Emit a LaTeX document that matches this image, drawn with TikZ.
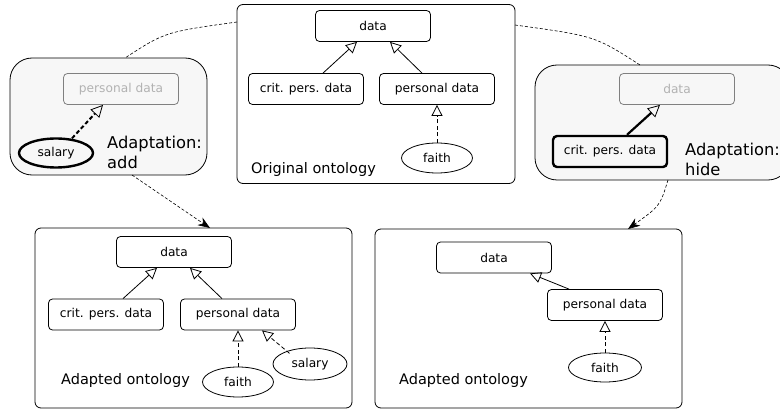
\documentclass[tikz,border=0pt]{standalone}
\usepackage{fontspec}
\setmainfont{DejaVu Sans}
\usetikzlibrary{arrows.meta,shapes.geometric}
\tikzset{
  cls/.style={draw, rounded corners=4pt, minimum width=115pt, minimum height=31pt, inner sep=0pt, font=\fontsize{12.2}{14}\selectfont, line width=0.8pt},
  ghost/.style={cls, draw=black!50, text=black!30},
  bold/.style={line width=2.4pt},
  inst/.style={draw, ellipse, minimum width=71pt, minimum height=30pt, inner sep=0pt, font=\fontsize{12.2}{14}\selectfont, line width=0.8pt},
  frame/.style={draw, rounded corners=6pt, line width=0.8pt},
  adframe/.style={draw, rounded corners=22pt, line width=0.8pt, fill=black!3},
  isa/.style={-{Triangle[open, length=11pt, width=11pt]}, line width=0.8pt},
  io/.style={isa, dash pattern=on 4pt off 2.5pt},
  flow/.style={dash pattern=on 3pt off 2pt, line width=0.6pt},
  lbl/.style={font=\fontsize{14.5}{17}\selectfont, anchor=west, inner sep=0pt},
  adlbl/.style={font=\fontsize{16.3}{20}\selectfont, anchor=west, align=left, inner sep=0pt}
}
\begin{document}
\begin{tikzpicture}[x=1pt,y=-1pt]
\useasboundingbox (0,0) rectangle (780,409);
\clip (0,0) rectangle (780,409);

% frames
\node[frame, minimum width=278pt, minimum height=179pt, inner sep=0pt] (F0) at (376,94) {};
\node[adframe, minimum width=197pt, minimum height=117pt, inner sep=0pt] (F1) at (108.5,116.5) {};
\node[adframe, minimum width=255pt, minimum height=115pt, inner sep=0pt] (F2) at (662.5,122.5) {};
\node[frame, minimum width=317pt, minimum height=180pt, inner sep=0pt] (F3) at (193.5,318) {};
\node[frame, minimum width=307pt, minimum height=179pt, inner sep=0pt] (F4) at (528.5,318.5) {};

% original ontology
\node[cls] (o-data) at (373,26) {data};
\node[cls] (o-crit) at (306,89) {crit. pers. data};
\node[cls] (o-pers) at (437,89) {personal data};
\node[inst] (o-faith) at (437,158) {faith};
\node[lbl] (o-lbl) at (251,170) {Original ontology};
\draw[isa] ([xshift=17pt]o-crit.north) -- ([xshift=-16pt]o-data.south);
\draw[isa] ([xshift=-15pt]o-pers.north) -- ([xshift=17pt]o-data.south);
\draw[io] (o-faith) -- (o-pers);

% adaptation add
\node[ghost] (a-pers) at (121,89) {personal data};
\node[inst, bold, minimum width=74pt, minimum height=29pt] (a-sal) at (56,153) {salary};
\node[adlbl] (a-lbl) at (107,152) {Adaptation:\\add};
\draw[io, line width=2pt, -{Triangle[open, length=12pt, width=12pt, line width=0.8pt]}] (a-sal.north) ++(16pt,-1pt) coordinate (a-s) (a-s) -- ([xshift=-18pt]a-pers.south);

% adaptation hide
\node[ghost] (h-data) at (677,89) {data};
\node[cls, bold, minimum width=114pt, minimum height=31pt] (h-crit) at (610,151.5) {crit. pers. data};
\node[adlbl] (h-lbl) at (685,159) {Adaptation:\\hide};
\draw[isa, line width=2.2pt, -{Triangle[open, length=12pt, width=12pt, line width=0.8pt]}] ([xshift=17pt]h-crit.north) -- ([xshift=-17pt]h-data.south);

% adapted ontology (add)
\node[cls] (b-data) at (174,252) {data};
\node[cls] (b-crit) at (106,314.5) {crit. pers. data};
\node[cls] (b-pers) at (238,314.5) {personal data};
\node[inst] (b-faith) at (238,382) {faith};
\node[inst, minimum width=74pt, minimum height=32pt] (b-sal) at (310,364) {salary};
\node[lbl] (b-lbl) at (61,380) {Adapted ontology};
\draw[isa] ([xshift=17pt]b-crit.north) -- ([xshift=-17pt]b-data.south);
\draw[isa] ([xshift=-16pt]b-pers.north) -- ([xshift=16pt]b-data.south);
\draw[io] (b-faith) -- (b-pers);
\draw[io] (b-sal.north west) ++(6pt,-1pt) coordinate (b-s) (b-s) -- ([xshift=24pt]b-pers.south);

% adapted ontology (hide)
\node[cls] (c-data) at (494,257.5) {data};
\node[cls] (c-pers) at (605,305) {personal data};
\node[inst, minimum width=73pt, minimum height=29pt] (c-faith) at (605,367.5) {faith};
\node[lbl] (c-lbl) at (399,380) {Adapted ontology};
\draw[isa] ([xshift=-36pt]c-pers.north) -- ([xshift=36pt]c-data.south);
\draw[io] (c-faith) -- (c-pers);

% flow connectors
\coordinate (f0w) at (237,22);
\coordinate (f0e) at (515,25);
\coordinate (f1t) at (125,58);
\coordinate (f2t) at (640,65);
\coordinate (f1b) at (132,175);
\coordinate (f2b) at (668,180);
\coordinate (f3t) at (210,228);
\coordinate (f4t) at (628,229);
\draw[flow] (f0w) .. controls (165,32) .. (f1t);
\draw[flow] (f0e) .. controls (595,36) .. (f2t);
\draw[flow, -{Stealth[length=12pt, width=9pt]}] (f1b) .. controls (168,200) .. (f3t);
\draw[flow, -{Stealth[length=12pt, width=9pt]}] (f2b) .. controls (660,206) .. (f4t);
\end{tikzpicture}
\end{document}
